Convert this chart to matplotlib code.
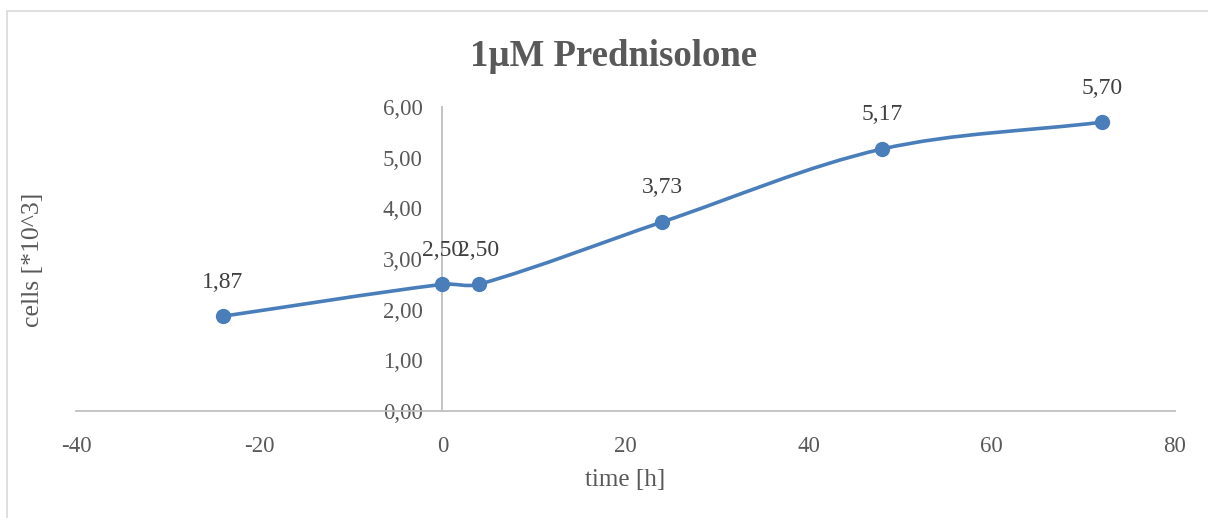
import numpy as np
import matplotlib
matplotlib.use("Agg")
import matplotlib.pyplot as plt
from matplotlib.path import Path
from matplotlib.patches import PathPatch, Rectangle

time_h = [-24, 0, 4, 24, 48, 72]
cells = [1.87, 2.50, 2.50, 3.73, 5.17, 5.70]
labels = ["1,87", "2,50", "2,50", "3,73", "5,17", "5,70"]
x_ticks = [-40, -20, 0, 20, 40, 60, 80]
y_ticks = [0, 1, 2, 3, 4, 5, 6]

plt.rcParams['font.family'] = ['Liberation Serif', 'DejaVu Serif']
TXT = '#595959'
LINE = '#4A7EBB'
AX = '#BFBFBF'

fig = plt.figure(figsize=(12.08, 5.18), dpi=100)
fig.patches.append(Rectangle((7/1208, -0.1), 1.2, (1-11/518)+0.1, transform=fig.transFigure,
                             fill=False, edgecolor='#D9D9D9', linewidth=1.2))
ax = fig.add_axes([76/1208, 1-411/518, (1175-76)/1208, (411-107)/518])
ax.set_xlim(-40, 80)
ax.set_ylim(0, 6)

# smooth curve (Excel-like) via cubic Bezier in display space
fig.canvas.draw()
tr = ax.transData
P = tr.transform(np.column_stack([time_h, cells]))
n = len(P)
tang = []
for i in range(n):
    a = P[max(i-1, 0)]
    b = P[min(i+1, n-1)]
    d = b - a
    tang.append(d / np.linalg.norm(d))
verts = [P[0]]
codes = [Path.MOVETO]
for i in range(n-1):
    L = np.linalg.norm(P[i+1] - P[i])
    c1 = P[i] + tang[i] * L / 3
    c2 = P[i+1] - tang[i+1] * L / 3
    verts += [c1, c2, P[i+1]]
    codes += [Path.CURVE4] * 3
inv = tr.inverted()
vd = inv.transform(np.array(verts))
ax.add_patch(PathPatch(Path(vd, codes), fill=False, edgecolor=LINE, linewidth=2.6,
                       capstyle='round', joinstyle='round', zorder=3))
ax.plot(time_h, cells, 'o', color=LINE, markersize=10, zorder=4)

for x, y, s in zip(time_h, cells, labels):
    ax.annotate(s, (x, y), xytext=(0, 17), textcoords='offset points', ha='center',
                va='bottom', fontsize=17, color='#404040')

ax.spines['left'].set_position(('data', 0))
ax.spines['bottom'].set_position(('data', 0))
ax.spines['right'].set_visible(False)
ax.spines['top'].set_visible(False)
for s in ['left', 'bottom']:
    ax.spines[s].set_color(AX)
    ax.spines[s].set_linewidth(1.3)
ax.set_xticks(x_ticks)
ax.set_yticks(y_ticks)
ax.set_xticklabels([str(v) for v in x_ticks])
ax.set_yticklabels([f"{v:.2f}".replace('.', ',') for v in y_ticks])
ax.tick_params(length=0, labelsize=16.5, labelcolor=TXT)
ax.tick_params(axis='x', pad=18)
ax.tick_params(axis='y', pad=14)
ax.patch.set_visible(False)

fig.text(614/1208, 1-57/518, "1µM Prednisolone", ha='center', va='center', fontsize=26.5,
         fontweight='bold', color=TXT)
fig.text(625/1208, 1-480/518, "time [h]", ha='center', va='center', fontsize=18, color=TXT)
fig.text(33/1208, 1-260/518, "cells [*10^3]", ha='center', va='center', fontsize=18.5,
         color=TXT, rotation=90)

fig.savefig("out.png", dpi=100)
